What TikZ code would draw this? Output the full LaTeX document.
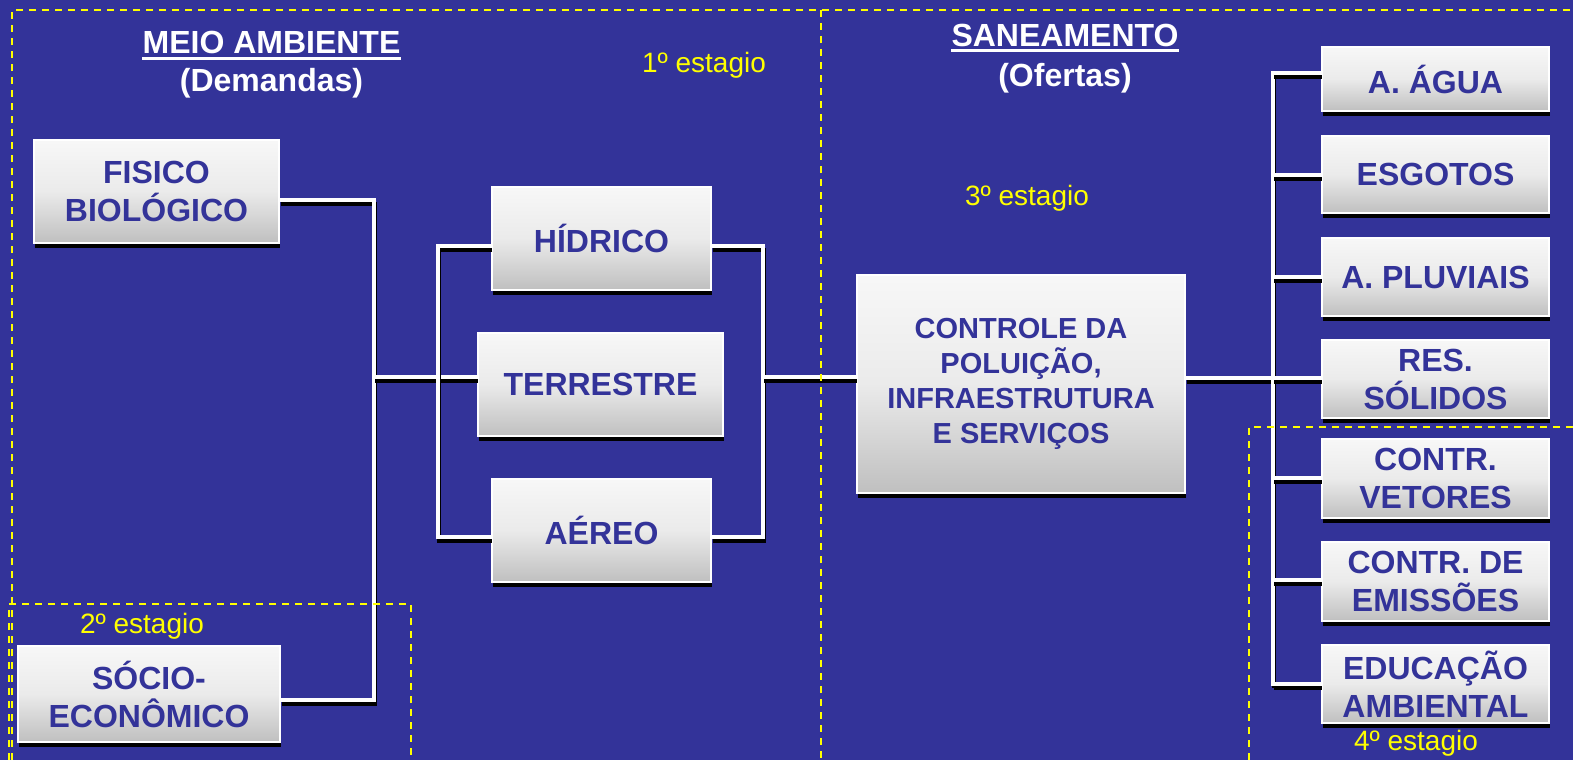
\documentclass[tikz,border=0pt]{standalone}
\usepackage{fontspec}
\setmainfont{Liberation Sans}
\usetikzlibrary{shadows}
\definecolor{fundo}{RGB}{51,51,153}
\definecolor{azul}{RGB}{51,51,153}
\definecolor{amarelo}{RGB}{255,255,0}

\begin{document}
\begin{tikzpicture}[x=1pt, y=-1pt, line join=miter,
	caixa/.style={draw=white, line width=1.2pt, top color=gray!6, bottom color=gray!50, middle color=gray!16,
		text=azul, font=\fontsize{32}{38}\selectfont\bfseries, align=center, inner sep=0pt,
		drop shadow={fill=black, opacity=1, shadow xshift=1pt, shadow yshift=-5pt}},
	fio/.style={draw=white, line width=4.6pt, preaction={draw=black, line width=4.6pt, transform canvas={shift={(1pt,-4pt)}}}},
	tracejado/.style={draw=amarelo, line width=2.2pt, dash pattern=on 7pt off 6pt},
	estagio/.style={text=amarelo, font=\fontsize{28}{34}\selectfont, inner sep=0pt, anchor=base},
	titulo/.style={text=white, font=\fontsize{32}{38}\selectfont\bfseries, inner sep=0pt, anchor=base}]
	%%%%%%%%%%%%%%%%%%%%%%%%%%%%%%%%%
	\useasboundingbox (0,0) rectangle (1573,760);
	\fill[fundo] (0,0) rectangle (1573,760);
	%%%%%%%%%%%%%%%%%%%%%%%%%%%%%%%%%
	\coordinate (jf) at (374,200);
	\coordinate (js) at (374,700);
	\coordinate (jt) at (374,377);
	\coordinate (ja) at (438,246);
	\coordinate (jb) at (438,537);
	\coordinate (jc) at (763,246);
	\coordinate (jd) at (763,537);
	\coordinate (jn) at (763,377);
	\coordinate (jr) at (1273,378);
	\coordinate (jtop) at (1273,73);
	\coordinate (jbot) at (1273,684);
	%%%%%%%%%%%%%%%%%%%%%%%%%%%%%%%%%
	\node[titulo] (meio) at (271.5,54) {MEIO AMBIENTE};
	\node[titulo] (demandas) at (271.5,91) {(Demandas)};
	\node[titulo] (saneamento) at (1065,47) {SANEAMENTO};
	\node[titulo] (ofertas) at (1065,86) {(Ofertas)};
	\draw[white, line width=3pt] ([yshift=-5pt]meio.base west) -- ([yshift=-5pt]meio.base east);
	\draw[white, line width=3pt] ([yshift=-4pt]saneamento.base west) -- ([yshift=-4pt]saneamento.base east);
	%%%%%%%%%%%%%%%%%%%%%%%%%%%%%%%%%
	\node[caixa, minimum width=245pt, minimum height=103pt] (fisico) at (156.5,191.5) {FISICO\\BIOLÓGICO};
	\node[caixa, minimum width=262pt, minimum height=96pt] (socio) at (149,694) {SÓCIO-\\ECONÔMICO};
	\node[caixa, minimum width=219pt, minimum height=103pt] (hidrico) at (601.5,238.5) {HÍDRICO};
	\node[caixa, minimum width=245pt, minimum height=103pt] (terrestre) at (600.5,384.5) {TERRESTRE};
	\node[caixa, minimum width=219pt, minimum height=103pt] (aereo) at (601.5,530.5) {AÉREO};
	\node[caixa, minimum width=328pt, minimum height=218pt, font=\fontsize{29}{35}\selectfont\bfseries] (controle) at (1021,384)
		{CONTROLE DA\\POLUIÇÃO,\\INFRAESTRUTURA\\E SERVIÇOS};
	\foreach \nome/\y/\h/\texto in {agua/79/64/{A. ÁGUA}, esgotos/174.5/77/{ESGOTOS}, pluviais/277/78/{A. PLUVIAIS},
		residuos/379/78/{RES.\\SÓLIDOS}, vetores/478.5/79/{CONTR.\\VETORES}, emissoes/581.5/79/{CONTR. DE\\EMISSÕES},
		educacao/684/78/{EDUCAÇÃO\\AMBIENTAL}}
		\node[caixa, minimum width=227pt, minimum height=\h pt] (\nome) at (1435.5,\y) {\texto};
	%%%%%%%%%%%%%%%%%%%%%%%%%%%%%%%%%
	\draw[fio] (fisico.east |- jf) -- (jf) -- (js) -- (socio.east |- js);
	\draw[fio] (jt) -- (terrestre.west |- jt);
	\draw[fio] (hidrico.west |- ja) -- (ja) -- (jb) -- (aereo.west |- jb);
	\draw[fio] (hidrico.east |- jc) -- (jc) -- (jd) -- (aereo.east |- jd);
	\draw[fio] (jn) -- (controle.west |- jn);
	\draw[fio] (controle.east |- jr) -- (jr);
	\draw[fio, line cap=rect] (jtop) -- (jbot);
	\foreach \nome/\y in {agua/73, esgotos/175, pluviais/277, residuos/378, vetores/478, emissoes/580, educacao/684}
		\draw[fio] (1273,\y) -- (\nome.west |- 1273,\y);
	%%%%%%%%%%%%%%%%%%%%%%%%%%%%%%%%%
	\begin{scope}[tracejado]
		\draw (12,760) -- (12,10) -- (1573,10);
		\draw (821,10) -- (821,760);
		\draw (9,760) -- (9,604) -- (411,604) -- (411,760);
		\draw (1249,760) -- (1249,427) -- (1573,427);
	\end{scope}
	%%%%%%%%%%%%%%%%%%%%%%%%%%%%%%%%%
	\node[estagio] (est1) at (704,72) {1º estagio};
	\node[estagio] (est2) at (142,633) {2º estagio};
	\node[estagio] (est3) at (1027,205) {3º estagio};
	\node[estagio] (est4) at (1416,750) {4º estagio};
	%%%%%%%%%%%%%%%%%%%%%%%%%%%%%%%%%
\end{tikzpicture}
\end{document}
